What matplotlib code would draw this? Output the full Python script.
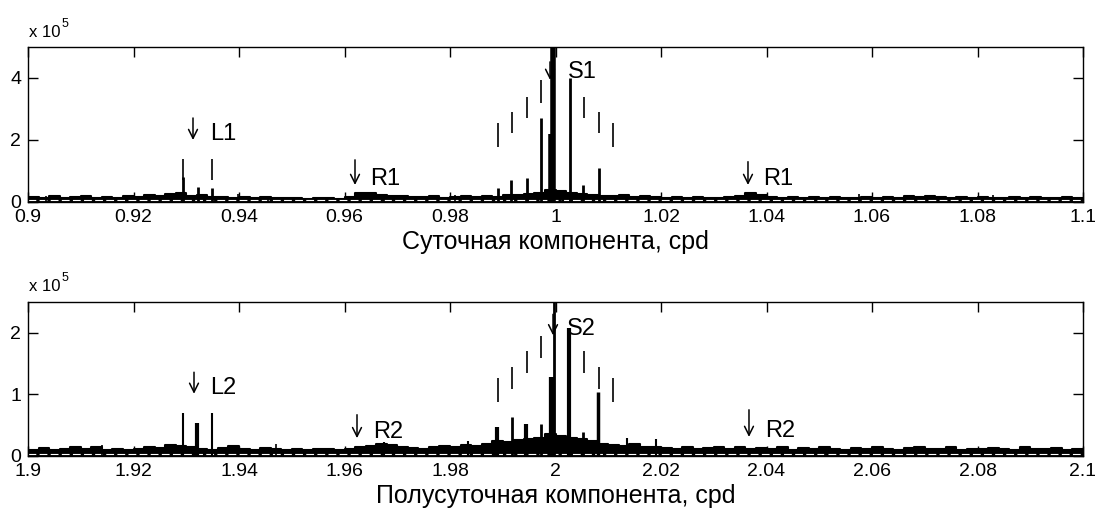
import numpy as np
import matplotlib
matplotlib.use("Agg")
import matplotlib.pyplot as plt

plt.rcParams['font.family'] = ['Liberation Sans', 'DejaVu Sans']

# noise floor, bins of 0.002 cpd, units of 1e5
top_floor = [
    0.15, 0.12, 0.18, 0.14, 0.16, 0.20, 0.13, 0.17, 0.12, 0.19,
    0.16, 0.22, 0.18, 0.25, 0.30, 0.20, 0.24, 0.17, 0.15, 0.14,
    0.16, 0.13, 0.15, 0.12, 0.14, 0.12, 0.10, 0.12, 0.14, 0.11,
    0.16, 0.30, 0.28, 0.22, 0.20, 0.18, 0.16, 0.15, 0.18, 0.14,
    0.16, 0.18, 0.15, 0.20, 0.17, 0.22, 0.24, 0.26, 0.30, 0.38,
    0.36, 0.30, 0.26, 0.22, 0.20, 0.18, 0.22, 0.17, 0.19, 0.15,
    0.14, 0.16, 0.13, 0.15, 0.12, 0.14, 0.16, 0.18, 0.30, 0.22,
    0.16, 0.14, 0.17, 0.12, 0.15, 0.13, 0.16, 0.14, 0.12, 0.15,
    0.13, 0.16, 0.14, 0.18, 0.15, 0.20, 0.17, 0.14, 0.16, 0.13,
    0.15, 0.12, 0.14, 0.16, 0.13, 0.15, 0.12, 0.14, 0.17, 0.13,
]
bottom_floor = [
    0.10, 0.13, 0.09, 0.12, 0.15, 0.11, 0.14, 0.10, 0.12, 0.09,
    0.12, 0.15, 0.13, 0.18, 0.16, 0.14, 0.12, 0.10, 0.13, 0.16,
    0.12, 0.10, 0.13, 0.11, 0.09, 0.11, 0.10, 0.12, 0.11, 0.10,
    0.12, 0.14, 0.16, 0.20, 0.18, 0.15, 0.13, 0.12, 0.14, 0.16,
    0.14, 0.18, 0.16, 0.20, 0.24, 0.22, 0.26, 0.28, 0.30, 0.35,
    0.32, 0.30, 0.28, 0.24, 0.20, 0.18, 0.16, 0.19, 0.14, 0.15,
    0.13, 0.12, 0.14, 0.11, 0.13, 0.15, 0.12, 0.14, 0.11, 0.13,
    0.12, 0.14, 0.10, 0.13, 0.11, 0.14, 0.12, 0.10, 0.13, 0.11,
    0.14, 0.12, 0.10, 0.13, 0.15, 0.11, 0.12, 0.14, 0.10, 0.12,
    0.11, 0.13, 0.12, 0.10, 0.14, 0.12, 0.11, 0.13, 0.10, 0.12,
]

# spectral peaks (cpd, 1e5)
top_peak_f = [0.9294, 0.9322, 0.9349, 0.9399, 0.9035, 0.9185, 0.9675, 0.9810,
              0.9891, 0.9916, 0.9946, 0.99725, 0.9992, 0.99953, 1.0014, 1.00275,
              1.0052, 1.00825, 1.01355, 1.0575, 1.0830, 0.9455, 1.0705]
top_peak_v = [0.80, 0.48, 0.45, 0.25, 0.20, 0.22, 0.22, 0.22,
              0.45, 0.71, 0.77, 2.70, 2.20, 5.20, 0.40, 4.00,
              0.55, 1.10, 0.25, 0.25, 0.22, 0.20, 0.22]
top_peak_w = [2.0, 2.0, 2.0, 1.2, 1.2, 1.2, 1.2, 1.2,
              2.0, 2.0, 2.0, 2.0, 4.0, 4.0, 1.5, 2.0,
              2.0, 2.0, 1.5, 1.2, 1.2, 1.2, 1.2]

bottom_peak_f = [1.92938, 1.93204, 1.93488, 1.98341, 1.98891, 1.99175, 1.99441,
                 1.99725, 1.9993, 1.99972, 2.00256, 2.00521, 2.00806, 2.01355,
                 2.01905, 1.9675, 1.9470, 1.9140, 2.0510]
bottom_peak_v = [0.70, 0.54, 0.70, 0.24, 0.47, 0.63, 0.52,
                 0.52, 1.28, 2.60, 2.08, 0.39, 1.04, 0.29,
                 0.27, 0.22, 0.20, 0.18, 0.17]
bottom_peak_w = [1.5, 3.0, 1.5, 1.5, 3.0, 2.0, 3.0,
                 2.0, 4.5, 2.0, 3.0, 2.0, 2.5, 1.5,
                 1.5, 1.5, 1.2, 1.2, 1.2]

# annual sidebands markers: k/365.25 around S1/S2
sideband_k = [-4, -3, -2, -1, 2, 3, 4]
top_mark_lo = [1.77, 2.23, 2.71, 3.19, 2.71, 2.23, 1.77]
top_mark_hi = [2.55, 2.90, 3.39, 3.94, 3.39, 2.90, 2.55]
bottom_mark_lo = [0.88, 1.09, 1.35, 1.59, 1.35, 1.09, 0.88]
bottom_mark_hi = [1.27, 1.44, 1.70, 1.95, 1.70, 1.44, 1.27]

# labels: name, arrow x, arrow top, arrow bottom, text x, text baseline
top_labels = [
    ('L1', 0.93128, 2.71, 2.00, 0.93450, 2.00),
    ('R1', 0.96199, 1.36, 0.55, 0.96483, 0.55),
    ('R1', 1.03649, 1.30, 0.55, 1.03934, 0.55),
    ('S1', 0.99896, 4.52, 3.94, 1.00237, 4.00),
]
bottom_labels = [
    ('L2', 1.93147, 1.36, 1.01, 1.93450, 1.01),
    ('R2', 1.96237, 0.67, 0.29, 1.96540, 0.29),
    ('R2', 2.03668, 0.75, 0.31, 2.03972, 0.31),
    ('S2', 1.99953, 2.30, 1.96, 2.00218, 1.96),
]

top_ticks = [0.9, 0.92, 0.94, 0.96, 0.98, 1.0, 1.02, 1.04, 1.06, 1.08, 1.1]
bottom_ticks = [1.9, 1.92, 1.94, 1.96, 1.98, 2.0, 2.02, 2.04, 2.06, 2.08, 2.1]

fig = plt.figure(figsize=(10.95, 5.16), dpi=100)
ax1 = fig.add_axes([28 / 1095, 1 - 202 / 516, 1055 / 1095, 155 / 516])
ax2 = fig.add_axes([28 / 1095, 1 - 456 / 516, 1055 / 1095, 154 / 516])


def draw_panel(ax, f0, floor, pf, pv, pw, centre, mlo, mhi, labels,
               ymax, yticks, ticks, xlabel):
    edges = f0 + 0.002 * np.arange(len(floor) + 1)
    vals = np.array(floor + [floor[-1]])
    ax.fill_between(edges, 0, vals, step='post', color='black', lw=0)
    ax.step(edges, vals, where='post', color='black', lw=1.5)
    ax.plot([f0, f0 + 0.2], [ymax * 0.012] * 2, color='white', lw=0.8,
            ls=(0, (7, 3)))
    for f, v, w in zip(pf, pv, pw):
        ax.vlines(f, 0, v, color='black', lw=w)
    for k, lo, hi in zip(sideband_k, mlo, mhi):
        ax.vlines(centre + k / 365.25, lo, hi, color='black', lw=1.2)
    for name, ax_x, a_top, a_bot, tx, ty in labels:
        ax.annotate('', xy=(ax_x, a_bot), xytext=(ax_x, a_top),
                    arrowprops=dict(arrowstyle='->', lw=1.1, color='black',
                                    mutation_scale=16, shrinkA=0, shrinkB=0))
        ax.text(tx, ty, name, fontsize=17, va='baseline', ha='left')
    ax.set_xlim(f0, f0 + 0.2)
    ax.set_ylim(0, ymax)
    ax.set_yticks(yticks)
    ax.set_yticklabels(['%g' % t for t in yticks])
    ax.set_xticks(ticks)
    ax.set_xticklabels(['%g' % t for t in ticks])
    ax.tick_params(direction='in', length=7, width=1, top=True, right=True,
                   labelsize=14, pad=5)
    for s in ax.spines.values():
        s.set_linewidth(1)
    ax.set_xlabel(xlabel, fontsize=18, labelpad=3)


draw_panel(ax1, 0.9, top_floor, top_peak_f, top_peak_v, top_peak_w, 1.0,
           top_mark_lo, top_mark_hi, top_labels, 5, [0, 2, 4], top_ticks,
           'Суточная компонента, cpd')
draw_panel(ax2, 1.9, bottom_floor, bottom_peak_f, bottom_peak_v, bottom_peak_w, 2.0,
           bottom_mark_lo, bottom_mark_hi, bottom_labels, 2.5, [0, 1, 2], bottom_ticks,
           'Полусуточная компонента, cpd')

# L1 markers
ax1.vlines([0.9294, 0.9349], 0.70, 1.39, color='black', lw=1.2)

for y in (37, 291):
    fig.text(29 / 1095, 1 - y / 516, 'x 10', fontsize=12, va='baseline')
    fig.text(62 / 1095, 1 - (y - 10) / 516, '5', fontsize=9, va='baseline')

fig.savefig('out.png', dpi=100)
